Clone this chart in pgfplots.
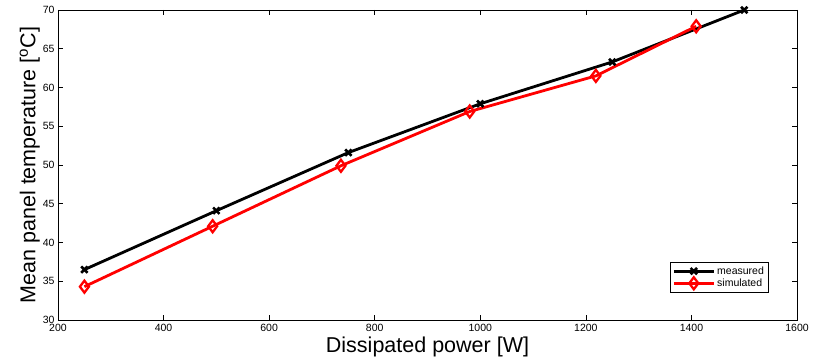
\documentclass[border=0pt]{standalone}
\usepackage{pgfplots}
\pgfplotsset{compat=1.18}
\usepackage{fontspec}
\setmainfont{Liberation Sans}
\begin{document}
\begin{tikzpicture}[x=1pt,y=1pt]
\begin{axis}[
  scale only axis,
  width=739pt, height=310pt,
  xmin=200, xmax=1600, ymin=30, ymax=70,
  xtick={200,400,...,1600}, ytick={30,35,...,70},
  tick align=inside,
  major tick length=5pt,
  tick style={black, line width=0.5pt},
  axis line style={line width=0.6pt},
  /pgf/number format/assume math mode=true,
  /pgf/number format/1000 sep={},
  ticklabel style={font=\fontsize{10.5}{12}\selectfont},
  xticklabel style={yshift=-1pt},
  xlabel={Dissipated power [W]},
  ylabel={Mean panel temperature [$^{\mathrm{o}}$C]},
  xlabel style={font=\fontsize{21.5}{24}\selectfont, yshift=2pt},
  ylabel style={font=\fontsize{21.5}{24}\selectfont, yshift=-4pt},
  legend style={at={(rel axis cs:0.961,0.09)}, anchor=south east,
    font=\fontsize{10.5}{11}\selectfont, draw=black, line width=0.5pt,
    row sep=-1pt, inner sep=2pt},
  legend cell align=left,
  legend image code/.code={
    \draw[mark repeat=2, mark phase=2] plot coordinates {(0pt,0pt) (20pt,0pt) (40pt,0pt)};
  },
]
\addplot[black, line width=2.8pt, mark=x, mark size=4.5pt, mark options={line width=2.6pt}]
 coordinates {(250,36.5) (500,44.1) (750,51.6) (1000,57.9) (1250,63.3) (1500,70)};
\addlegendentry{measured}
\addplot[red, line width=2.8pt, mark=diamond, mark size=6pt, mark options={line width=2.3pt}]
 coordinates {(250,34.3) (493,42.1) (736,49.9) (980,56.9) (1219,61.5) (1409,67.9)};
\addlegendentry{simulated}
\end{axis}
\pgfresetboundingbox
\path[use as bounding box] (-58,-43) rectangle (765,320);
\end{tikzpicture}
\end{document}
